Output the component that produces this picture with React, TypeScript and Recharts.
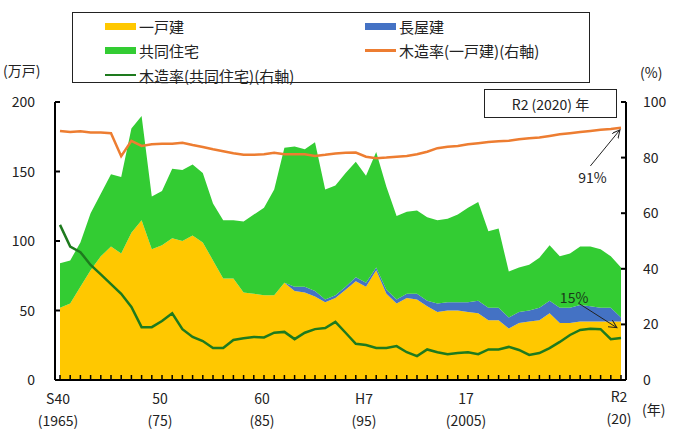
import {
  Area,
  ComposedChart,
  Line,
  ReferenceDot,
  ReferenceLine,
  XAxis,
  YAxis,
} from "recharts";

const years = [
  1965, 1966, 1967, 1968, 1969, 1970, 1971, 1972, 1973, 1974,
  1975, 1976, 1977, 1978, 1979, 1980, 1981, 1982, 1983, 1984,
  1985, 1986, 1987, 1988, 1989, 1990, 1991, 1992, 1993, 1994,
  1995, 1996, 1997, 1998, 1999, 2000, 2001, 2002, 2003, 2004,
  2005, 2006, 2007, 2008, 2009, 2010, 2011, 2012, 2013, 2014,
  2015, 2016, 2017, 2018, 2019, 2020,
];

// 万戸
const detached = [
  52, 55, 67, 79, 89, 96, 91, 106, 115, 94,
  97, 102, 100, 104, 99, 86, 73, 73, 63, 62,
  61, 61, 70, 64, 63, 60, 56, 59, 65, 71,
  67, 79, 62, 55, 59, 58, 53, 49, 50, 50,
  49, 48, 43, 43, 37, 41, 42, 43, 48, 41,
  41, 42, 42, 42, 42, 42,
];
const rowHouse = [
  0, 0, 0, 0, 0, 0, 0, 0, 0, 0,
  0, 0, 0, 0, 0, 0, 0, 0, 0, 0,
  0, 0, 0, 3, 4, 4, 2, 2, 2, 3,
  3, 2, 3, 3, 3, 4, 4, 6, 6, 6,
  7, 9, 9, 9, 8, 8, 8, 9, 9, 11,
  11, 12, 11, 10, 10, 3,
];
const apartment = [
  32, 31, 32, 41, 45, 52, 55, 75, 75, 38,
  39, 50, 51, 51, 50, 41, 42, 42, 51, 57,
  63, 76, 97, 101, 99, 107, 79, 79, 82, 83,
  77, 83, 74, 60, 59, 60, 60, 60, 60, 63,
  68, 71, 55, 57, 33, 32, 33, 36, 40, 37,
  39, 42, 43, 42, 37, 36,
];
// %
const woodDetached = [
  89.6, 89.2, 89.5, 89.0, 89.0, 88.8, 80.5, 86.0, 84.2, 84.8,
  85.0, 85.0, 85.3, 84.5, 83.8, 83.0, 82.3, 81.6, 81.0, 81.0,
  81.2, 81.7, 81.2, 81.2, 81.2, 80.6, 81.0, 81.5, 81.7, 81.8,
  80.3, 79.8, 80.0, 80.3, 80.6, 81.2, 82.1, 83.4, 83.9, 84.2,
  84.8, 85.2, 85.6, 85.9, 86.1, 86.6, 87.0, 87.2, 87.8, 88.4,
  88.8, 89.2, 89.6, 90.0, 90.3, 90.7,
];
const woodApartment = [
  55.8, 48, 46, 41.4, 38, 34.5, 31, 26.3, 19, 19,
  21.2, 24, 18.3, 15.5, 14, 11.5, 11.5, 14.4, 15, 15.5,
  15.3, 17, 17.3, 14.7, 17, 18.3, 18.7, 20.9, 17, 13,
  12.6, 11.5, 11.5, 12.2, 10, 8.6, 11, 10, 9.3, 9.7,
  10, 9.3, 11, 11, 11.9, 10.8, 9, 9.7, 11.5, 13.7,
  16.2, 18, 18.4, 18.3, 14.7, 15.1,
];

const xLabels: Record<number, [string, string]> = {
  1965: ["S40", "(1965)"],
  1975: ["50", "(75)"],
  1985: ["60", "(85)"],
  1995: ["H7", "(95)"],
  2005: ["17", "(2005)"],
  2020: ["R2", "(20)"],
};
const leftTicks = [0, 50, 100, 150, 200];
const rightTicks = [0, 20, 40, 60, 80, 100];

const data = years.map((year, i) => ({
  year,
  detached: detached[i],
  rowHouse: rowHouse[i],
  apartment: apartment[i],
  woodDetached: woodDetached[i],
  woodApartment: woodApartment[i],
}));

const FONT = "'Noto Sans CJK JP', 'Noto Sans', sans-serif";
const COLORS = {
  detached: "#FFC800",
  rowHouse: "#4472C4",
  apartment: "#33CC33",
  woodDetached: "#ED7D31",
  woodApartment: "#1E7A1E",
};

const legendItems = [
  { name: "一戸建", color: COLORS.detached, kind: "box", col: 0, row: 0 },
  { name: "長屋建", color: COLORS.rowHouse, kind: "box", col: 1, row: 0 },
  { name: "共同住宅", color: COLORS.apartment, kind: "box", col: 0, row: 1 },
  { name: "木造率(一戸建)(右軸)", color: COLORS.woodDetached, kind: "line", col: 1, row: 1 },
  { name: "木造率(共同住宅)(右軸)", color: COLORS.woodApartment, kind: "line", col: 0, row: 2 },
];

function XTick({ x, y, payload }: any) {
  const lab = xLabels[payload.value];
  return (
    <g>
      <line x1={x} x2={x} y1={y - 5} y2={y} stroke="#000" strokeWidth={1.5} />
      {lab && (
        <text x={x} y={y} textAnchor="middle" fontSize={14} fontFamily={FONT} fill="#222">
          <tspan x={x - 2} dy={payload.value === 2020 ? 22 : 24}>{lab[0]}</tspan>
          <tspan x={x - 2} dy={22}>{lab[1]}</tspan>
        </text>
      )}
    </g>
  );
}

function LeftTick({ x, y, payload }: any) {
  return (
    <g>
      <line x1={x} x2={x + 5} y1={y} y2={y} stroke="#000" strokeWidth={2} />
      <text x={x - 20} y={y} dy={5} textAnchor="end" fontSize={14} fontFamily={FONT} fill="#222">
        {payload.value}
      </text>
    </g>
  );
}

function RightTick({ x, y, payload }: any) {
  return (
    <g>
      <line x1={x - 5} x2={x} y1={y} y2={y} stroke="#000" strokeWidth={2} />
      <text x={x + 17} y={y} dy={5} textAnchor="start" fontSize={14} fontFamily={FONT} fill="#222">
        {payload.value}
      </text>
    </g>
  );
}

export default function App() {
  return (
    <div style={{ position: "absolute", left: 0, top: 0, width: 686, height: 446, background: "#fff", fontFamily: FONT }}>
      <ComposedChart
        width={686}
        height={446}
        data={data}
        margin={{ top: 102, right: 0, left: 0, bottom: 0 }}
      >
        <defs>
          <marker id="arrowHead" markerWidth={10} markerHeight={10} refX={8} refY={4} orient="auto" markerUnits="userSpaceOnUse">
            <path d="M0,0 L8,4 L0,8" fill="none" stroke="#222" strokeWidth={1} />
          </marker>
        </defs>
        <XAxis
          dataKey="year"
          type="number"
          domain={[1965, 2020]}
          ticks={years}
          interval={0}
          padding={{ left: 5, right: 5 }}
          height={66}
          tickSize={0}
          tickMargin={0}
          tickLine={false}
          tick={<XTick />}
          axisLine={{ stroke: "#000", strokeWidth: 2 }}
        />
        <YAxis
          yAxisId="left"
          domain={[0, 200]}
          ticks={leftTicks}
          width={55}
          tickSize={0}
          tickMargin={0}
          tickLine={false}
          tick={<LeftTick />}
          axisLine={{ stroke: "#000", strokeWidth: 2 }}
        />
        <YAxis
          yAxisId="right"
          orientation="right"
          domain={[0, 100]}
          ticks={rightTicks}
          width={60}
          tickSize={0}
          tickMargin={0}
          tickLine={false}
          tick={<RightTick />}
          axisLine={{ stroke: "#000", strokeWidth: 2 }}
        />
        <Area yAxisId="left" type="linear" dataKey="detached" stackId="a" fill={COLORS.detached} fillOpacity={1} stroke="none" isAnimationActive={false} />
        <Area yAxisId="left" type="linear" dataKey="rowHouse" stackId="a" fill={COLORS.rowHouse} fillOpacity={1} stroke="none" isAnimationActive={false} />
        <Area yAxisId="left" type="linear" dataKey="apartment" stackId="a" fill={COLORS.apartment} fillOpacity={1} stroke="none" isAnimationActive={false} />
        <Line yAxisId="right" type="linear" dataKey="woodDetached" stroke={COLORS.woodDetached} strokeWidth={2.5} dot={false} isAnimationActive={false} />
        <Line yAxisId="right" type="linear" dataKey="woodApartment" stroke={COLORS.woodApartment} strokeWidth={2.5} dot={false} isAnimationActive={false} />
        <ReferenceLine
          yAxisId="right"
          segment={[{ x: 2017, y: 77 }, { x: 2019.9, y: 90 }]}
          stroke="#222"
          strokeWidth={1}
          markerEnd="url(#arrowHead)"
        />
        <ReferenceLine
          yAxisId="right"
          segment={[{ x: 2015.8, y: 27.7 }, { x: 2019.6, y: 18.8 }]}
          stroke="#222"
          strokeWidth={1}
          markerEnd="url(#arrowHead)"
        />
        <ReferenceDot
          yAxisId="right"
          x={2017.2}
          y={72.5}
          r={0}
          label={{ value: "91%", position: "center", fontSize: 14, fontFamily: FONT, fill: "#222" }}
        />
        <ReferenceDot
          yAxisId="right"
          x={2015.4}
          y={29.5}
          r={0}
          label={{ value: "15%", position: "center", fontSize: 14, fontFamily: FONT, fill: "#1a3a1a" }}
        />
      </ComposedChart>

      {/* legend box */}
      <div style={{ position: "absolute", left: 72, top: 12, width: 518, height: 71, border: "1.5px solid #222", boxSizing: "border-box" }}>
        {legendItems.map((it) => (
          <div
            key={it.name}
            style={{
              position: "absolute",
              left: it.col === 0 ? 32 : 292,
              top: 3 + it.row * 24.5,
              height: 20,
              display: "flex",
              alignItems: "center",
              fontSize: 15,
              color: "#222",
              whiteSpace: "nowrap",
            }}
          >
            <span
              style={{
                display: "inline-block",
                width: 31,
                height: it.kind === "box" ? 7 : 2.5,
                background: it.color,
                marginRight: 3,
              }}
            />
            {it.name}
          </div>
        ))}
      </div>

      <div style={{ position: "absolute", left: 484, top: 89, width: 133, height: 29, border: "1px solid #222", boxSizing: "border-box", display: "flex", alignItems: "center", justifyContent: "center", fontSize: 14, color: "#222" }}>
        R2 (2020) 年
      </div>

      <div style={{ position: "absolute", left: 3, top: 60, fontSize: 14, color: "#222" }}>(万戸)</div>
      <div style={{ position: "absolute", left: 640, top: 62, fontSize: 14, color: "#222" }}>(%)</div>
      <div style={{ position: "absolute", left: 642, top: 399, fontSize: 14, color: "#222" }}>(年)</div>
    </div>
  );
}
